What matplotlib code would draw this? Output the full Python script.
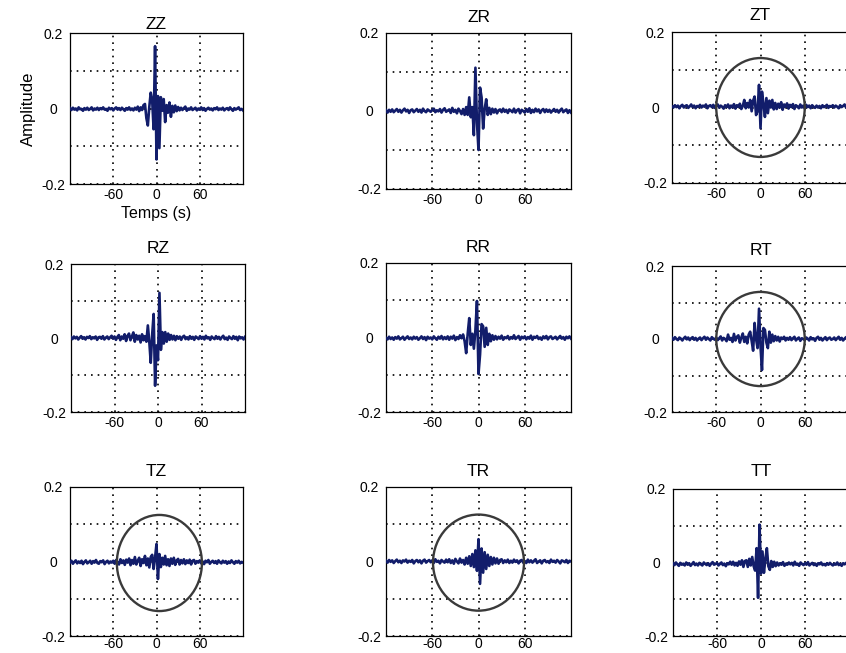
import numpy as np
import matplotlib
matplotlib.use("Agg")
import matplotlib.pyplot as plt
from matplotlib.patches import Ellipse

plt.rcParams['font.family'] = ['Liberation Sans', 'DejaVu Sans']
plt.rcParams['axes.unicode_minus'] = False

# time axis (s), 2 s sampling
t = np.arange(-120, 121, 2)

titles = ["ZZ", "ZR", "ZT", "RZ", "RR", "RT", "TZ", "TR", "TT"]

ZZ = [
    0.001, -0.004, 0.002, -0.003, 0.000, -0.005, 0.003, -0.002, -0.001, -0.006,
    0.001, -0.003, 0.002, -0.004, -0.001, 0.003, -0.005, 0.000, -0.003, 0.002,
    -0.004, 0.001, -0.002, 0.003, -0.003, -0.001, -0.006, 0.002, -0.002, 0.001,
    -0.005, 0.000, 0.003, -0.003, 0.001, -0.004, 0.002, -0.002, -0.006, 0.001,
    -0.003, 0.003, -0.004, 0.000, -0.005, 0.002, -0.003, 0.005, -0.007, 0.003,
    -0.004, 0.009, 0.012, -0.026, -0.045, 0.004, 0.042, 0.022, -0.055, 0.165,
    -0.135, 0.033, -0.105, 0.030, -0.006, 0.025, -0.036, 0.009, -0.011, 0.016,
    -0.022, 0.007, -0.010, 0.008, -0.007, 0.004, -0.005, 0.002, -0.004, 0.001,
    0.005, -0.006, 0.000, -0.003, 0.003, -0.004, -0.001, 0.002, -0.005, 0.000,
    -0.003, 0.003, -0.004, 0.001, -0.006, -0.001, 0.002, -0.003, 0.000, -0.005,
    0.001, -0.002, 0.003, -0.004, 0.000, -0.003, 0.002, -0.005, -0.001, 0.001,
    -0.004, 0.003, -0.002, -0.006, 0.001, -0.003, 0.000, 0.003, -0.004, -0.001,
    -0.005,
]

ZR = [
    0.002, -0.004, 0.003, -0.002, 0.004, -0.003, 0.001, 0.005, -0.002, 0.003,
    -0.004, 0.002, 0.006, -0.001, 0.003, -0.005, 0.002, 0.004, -0.003, 0.001,
    0.005, -0.002, 0.003, -0.004, 0.006, 0.000, -0.003, 0.004, 0.001, -0.002,
    0.003, 0.006, -0.003, 0.002, -0.001, 0.005, -0.004, 0.003, 0.007, -0.002,
    0.001, 0.004, -0.005, 0.008, -0.002, 0.003, -0.006, 0.006, 0.000, -0.008,
    0.005, -0.010, 0.010, -0.010, 0.035, -0.016, 0.010, -0.062, 0.111, -0.030,
    -0.100, 0.060, 0.035, -0.045, 0.005, 0.030, -0.010, 0.008, -0.008, 0.006,
    -0.004, 0.005, -0.006, 0.002, 0.004, -0.003, 0.006, -0.002, 0.003, -0.005,
    0.004, 0.001, -0.003, 0.006, -0.004, 0.002, 0.005, -0.006, 0.003, 0.000,
    -0.004, 0.005, -0.002, 0.007, -0.005, 0.003, -0.003, 0.006, -0.001, 0.004,
    -0.005, 0.002, 0.005, -0.003, 0.004, -0.002, 0.003, -0.004, 0.001, 0.005,
    -0.002, 0.003, -0.004, 0.002, 0.006, -0.003, 0.001, 0.004, -0.005, 0.002,
    -0.004,
]

ZT = [
    0.003, 0.000, 0.006, 0.001, 0.005, -0.002, 0.004, 0.007, 0.000, 0.004,
    0.006, -0.001, 0.003, 0.008, 0.001, 0.005, -0.002, 0.004, 0.002, 0.007,
    0.000, 0.005, 0.002, 0.008, -0.002, 0.004, 0.006, 0.001, 0.007, -0.001,
    0.004, 0.008, 0.000, 0.005, 0.002, -0.003, 0.006, 0.001, 0.008, -0.002,
    0.005, 0.000, 0.009, -0.003, 0.006, 0.002, 0.010, -0.004, 0.004, 0.020,
    -0.002, 0.012, 0.000, 0.020, -0.010, 0.018, 0.029, -0.020, -0.010, 0.060,
    -0.055, 0.042, 0.010, -0.025, 0.025, -0.015, 0.018, 0.000, 0.020, -0.005,
    0.012, -0.004, 0.010, 0.000, 0.014, -0.006, 0.008, 0.002, 0.011, -0.003,
    0.007, 0.001, 0.009, -0.004, 0.006, 0.003, -0.002, 0.008, 0.000, 0.005,
    -0.003, 0.007, 0.001, 0.005, -0.002, 0.006, 0.002, -0.001, 0.005, 0.000,
    0.004, -0.002, 0.006, 0.001, 0.003, 0.007, -0.001, 0.004, 0.002, 0.006,
    0.000, 0.005, 0.002, -0.002, 0.006, 0.001, 0.004, 0.008, 0.000, 0.003,
    0.005,
]

RZ = [
    0.002, -0.003, 0.004, -0.001, 0.003, -0.004, 0.001, 0.005, -0.002, 0.002,
    -0.004, 0.003, 0.000, 0.005, -0.003, 0.002, -0.001, 0.004, -0.005, 0.002,
    0.003, -0.002, 0.005, -0.004, 0.001, 0.004, -0.003, 0.002, 0.006, -0.002,
    0.004, -0.005, 0.003, 0.008, -0.006, 0.004, -0.002, 0.010, -0.008, 0.006,
    0.012, -0.006, 0.004, 0.015, -0.010, 0.008, -0.004, 0.006, -0.012, 0.010,
    -0.006, 0.005, -0.010, 0.034, -0.010, -0.067, 0.010, 0.065, -0.129, -0.020,
    -0.060, 0.122, -0.032, 0.016, -0.015, 0.016, -0.010, 0.012, -0.005, 0.008,
    -0.004, 0.006, -0.006, 0.005, -0.002, 0.004, -0.005, 0.003, 0.006, -0.003,
    0.002, -0.004, 0.005, -0.002, 0.003, -0.005, 0.004, 0.001, -0.003, 0.005,
    -0.002, 0.003, -0.004, 0.006, -0.001, 0.002, -0.005, 0.004, 0.000, -0.003,
    0.005, -0.002, 0.003, -0.004, 0.002, 0.006, -0.003, 0.001, -0.005, 0.004,
    0.000, -0.003, 0.005, -0.002, 0.003, -0.006, 0.004, -0.001, 0.002, -0.004,
    0.003,
]

RR = [
    -0.001, -0.005, 0.002, -0.004, 0.000, -0.006, 0.001, -0.003, 0.003, -0.005,
    -0.002, 0.002, -0.006, -0.001, 0.003, -0.004, 0.000, -0.005, 0.002, -0.003,
    0.001, -0.006, -0.002, 0.003, -0.004, 0.001, -0.007, 0.002, -0.003, 0.000,
    -0.005, 0.003, -0.002, -0.006, 0.002, -0.003, 0.004, -0.005, 0.001, -0.004,
    0.003, -0.006, 0.002, -0.003, 0.005, -0.007, 0.001, -0.004, 0.006, -0.002,
    0.008, -0.010, -0.042, 0.010, 0.052, -0.020, 0.010, -0.030, 0.020, 0.098,
    -0.098, -0.046, 0.036, 0.030, -0.025, 0.026, -0.020, 0.010, -0.010, 0.006,
    -0.006, 0.004, -0.005, 0.002, -0.003, 0.005, -0.006, 0.001, -0.002, 0.004,
    -0.005, 0.001, -0.003, 0.006, -0.004, 0.000, 0.004, -0.006, 0.002, -0.002,
    0.003, -0.005, 0.001, -0.003, 0.005, -0.006, 0.002, -0.001, 0.004, -0.004,
    0.000, -0.006, 0.003, -0.002, 0.004, -0.005, 0.001, 0.003, -0.004, -0.001,
    0.002, -0.005, 0.000, 0.004, -0.003, 0.001, -0.006, 0.002, -0.002, 0.003,
    -0.003,
]

RT = [
    0.003, -0.002, 0.005, 0.000, -0.003, 0.004, 0.001, -0.004, 0.002, 0.006,
    -0.001, 0.004, -0.003, 0.002, 0.005, -0.002, 0.003, -0.004, 0.001, 0.004,
    -0.003, 0.002, 0.006, -0.002, 0.004, 0.000, -0.004, 0.005, 0.001, -0.002,
    0.004, -0.003, 0.002, 0.007, -0.004, 0.003, 0.000, -0.006, 0.012, -0.002,
    0.003, -0.008, 0.014, -0.004, 0.006, 0.010, -0.010, 0.004, 0.015, -0.008,
    0.006, -0.012, 0.012, 0.020, -0.005, -0.032, 0.044, 0.000, -0.025, 0.083,
    -0.020, -0.085, 0.030, 0.025, -0.010, -0.025, 0.020, -0.010, 0.012, -0.006,
    0.008, -0.004, 0.006, -0.007, 0.004, 0.000, 0.006, -0.004, 0.003, -0.002,
    0.005, -0.003, 0.002, 0.006, -0.004, 0.001, 0.004, -0.005, 0.002, 0.000,
    -0.003, 0.004, 0.001, -0.004, 0.005, -0.001, 0.002, -0.005, 0.003, 0.006,
    -0.002, 0.003, -0.004, 0.001, 0.005, -0.003, 0.002, 0.004, -0.002, 0.000,
    0.004, -0.003, 0.002, 0.006, -0.002, 0.003, -0.004, 0.001, 0.005, -0.001,
    0.002,
]

TZ = [
    -0.003, 0.002, -0.006, -0.001, 0.003, -0.005, 0.000, -0.004, 0.002, -0.007,
    -0.001, 0.003, -0.005, -0.002, 0.002, -0.006, 0.001, -0.003, 0.004, -0.004,
    -0.006, 0.001, -0.002, 0.003, -0.007, -0.001, 0.002, -0.005, 0.000, -0.003,
    0.002, -0.006, 0.004, -0.002, -0.008, 0.006, -0.004, 0.003, -0.009, 0.005,
    -0.003, 0.008, -0.010, 0.004, -0.006, 0.012, -0.008, 0.002, 0.010, -0.012,
    0.006, -0.004, 0.015, -0.010, 0.008, -0.016, 0.012, 0.018, -0.020, 0.010,
    0.047, -0.047, 0.020, -0.015, 0.010, -0.008, 0.015, -0.010, 0.006, -0.012,
    0.008, -0.006, 0.010, -0.009, 0.003, 0.007, -0.008, 0.004, -0.005, 0.006,
    -0.007, 0.003, -0.004, 0.005, -0.008, 0.002, 0.004, -0.006, 0.001, -0.003,
    0.003, -0.005, 0.000, -0.007, 0.002, -0.002, 0.004, -0.006, -0.001, 0.002,
    -0.004, 0.001, -0.006, 0.003, -0.002, -0.005, 0.002, -0.003, 0.001, -0.006,
    0.000, -0.004, 0.003, -0.002, -0.006, 0.001, -0.003, 0.002, -0.005, -0.001,
    -0.003,
]

TR = [
    0.002, -0.003, 0.004, -0.001, 0.003, -0.004, 0.001, 0.005, -0.002, 0.002,
    -0.004, 0.003, 0.000, 0.005, -0.003, 0.002, -0.001, 0.004, -0.005, 0.001,
    0.004, -0.002, 0.003, -0.005, 0.002, 0.005, -0.003, 0.001, 0.004, -0.002,
    0.003, -0.004, 0.006, -0.001, 0.002, -0.005, 0.004, 0.000, -0.003, 0.005,
    -0.002, 0.006, -0.004, 0.003, -0.006, 0.007, 0.000, -0.005, 0.008, -0.003,
    0.004, -0.008, 0.010, -0.006, 0.014, -0.012, 0.020, -0.015, 0.030, -0.025,
    0.060, -0.060, 0.035, -0.030, 0.025, -0.020, 0.018, -0.012, 0.012, -0.008,
    0.010, -0.005, 0.008, -0.006, 0.004, 0.006, -0.004, 0.003, -0.002, 0.005,
    -0.004, 0.002, -0.003, 0.005, -0.001, 0.003, -0.005, 0.002, 0.004, -0.003,
    0.001, -0.004, 0.005, -0.002, 0.003, -0.003, 0.002, 0.006, -0.004, 0.000,
    0.003, -0.005, 0.002, 0.004, -0.002, 0.001, -0.004, 0.005, -0.001, 0.002,
    -0.003, 0.004, 0.000, -0.005, 0.003, 0.001, -0.002, 0.004, -0.004, 0.002,
    0.000,
]

TT = [
    -0.002, -0.007, 0.000, -0.005, -0.009, -0.001, -0.006, -0.003, -0.008, 0.000,
    -0.006, -0.002, -0.009, -0.004, 0.001, -0.007, -0.003, -0.008, -0.001, -0.005,
    -0.008, 0.000, -0.004, -0.007, -0.002, -0.009, -0.003, 0.001, -0.006, -0.004,
    -0.001, -0.008, -0.004, 0.000, -0.007, -0.003, -0.010, -0.002, -0.005, 0.002,
    -0.006, 0.002, -0.008, -0.001, -0.009, 0.003, -0.006, 0.006, -0.012, 0.004,
    0.006, -0.012, 0.010, -0.008, 0.015, -0.010, -0.022, 0.039, -0.096, 0.103,
    -0.030, 0.030, -0.028, 0.010, 0.039, -0.010, -0.020, 0.004, -0.012, 0.002,
    -0.010, 0.000, -0.008, -0.002, -0.006, 0.001, -0.009, -0.003, -0.006, 0.000,
    -0.005, -0.001, -0.008, 0.002, -0.006, -0.003, -0.009, 0.000, -0.004, -0.007,
    -0.002, -0.006, 0.001, -0.008, -0.004, -0.001, -0.007, -0.003, -0.009, -0.002,
    -0.005, 0.000, -0.007, -0.004, -0.008, -0.002, -0.006, -0.001, -0.005, -0.008,
    -0.003, -0.006, 0.000, -0.007, -0.004, -0.009, -0.002, -0.005, -0.001, -0.006,
    -0.004,
]

series = [ZZ, ZR, ZT, RZ, RR, RT, TZ, TR, TT]

# ellipse highlight (center time, center amplitude, width s, height) or None
ellipses = [None, None, (0, 0.0, 120, 0.262),
            None, None, (0, 0.0, 120, 0.258),
            (4, -0.004, 118, 0.258), (0, -0.003, 118, 0.258), None]

xticks = [-60, 0, 60]
xticklabels = ["-60", "0", "60"]
yticks = [-0.2, -0.1, 0, 0.1, 0.2]
yticklabels = ["-0.2", "", "0", "", "0.2"]

# layout in pixels: left, top, right, bottom, title pad (pt), x tick pad (pt)
W, H = 846, 653
boxes = [
    (70, 33, 243, 184, 3, 3), (386, 33, 571, 189, 8, 3), (672, 32, 849, 183, 9, 3),
    (71, 264, 245, 412, 8, 3), (386, 263, 571, 412, 8, 3), (672, 266, 849, 412, 8, 3),
    (70, 487, 243, 636, 8, 0.5), (386, 487, 571, 636, 8, 0.5), (673, 489, 849, 636, 9, 0.5),
]

fig = plt.figure(figsize=(W / 100, H / 100), dpi=100)
line_color = "#121d6b"
grid_style = dict(color="black", linestyle=(0, (1, 3)), linewidth=1.2)

for k in range(9):
    l, tp, r, b, pad, xpad = boxes[k]
    ax = fig.add_axes([l / W, 1 - b / H, (r - l) / W, (b - tp) / H])
    ax.plot(t, series[k], color=line_color, linewidth=1.9, zorder=3)
    if ellipses[k] is not None:
        cx, cy, ew, eh = ellipses[k]
        ax.add_patch(Ellipse((cx, cy), ew, eh, fill=False,
                             edgecolor="#3a3a3a", linewidth=1.7, zorder=4))
    ax.set_xlim(-120, 120)
    ax.set_ylim(-0.2, 0.2)
    ax.set_xticks(xticks)
    ax.set_xticklabels(xticklabels)
    ax.set_yticks(yticks)
    ax.set_yticklabels(yticklabels)
    ax.tick_params(length=0, labelsize=10)
    ax.tick_params(axis="y", pad=12)
    ax.tick_params(axis="x", pad=xpad)
    for lab in ax.get_yticklabels():
        lab.set_horizontalalignment("center")
    ax.grid(True, **grid_style)
    ax.set_axisbelow(True)
    for sp in ax.spines.values():
        sp.set_linewidth(0.9)
        sp.set_color("black")
    ax.set_title(titles[k], fontsize=12.5, pad=pad)
    if k == 0:
        ax.set_ylabel("Amplitude", fontsize=12, labelpad=4)
        ax.set_xlabel("Temps (s)", fontsize=11.5, labelpad=3)

fig.savefig("out.png", dpi=100)
